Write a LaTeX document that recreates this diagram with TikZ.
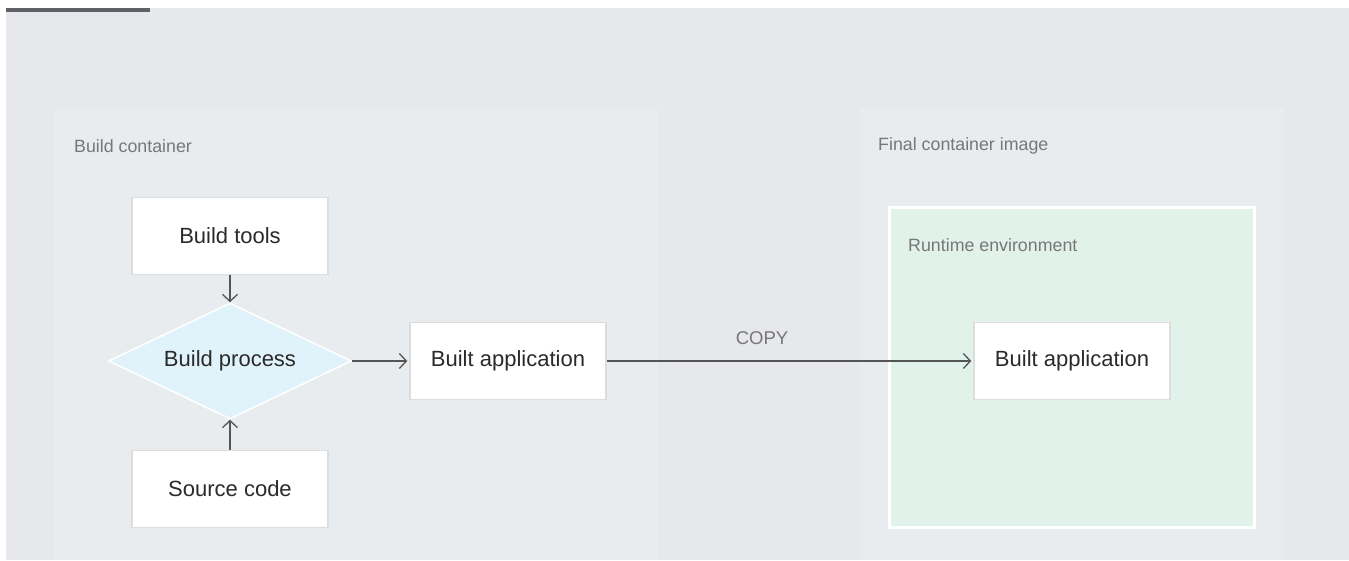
\documentclass[tikz,border=0pt]{standalone}
\usepackage{fontspec}
\setmainfont{Liberation Sans}
\usetikzlibrary{shapes.geometric,arrows.meta}
\definecolor{outerbg}{HTML}{E7E8EC}
\definecolor{contbg}{HTML}{E9ECEF}
\definecolor{runbg}{HTML}{E0F2EA}
\definecolor{boxline}{HTML}{DDDDDD}
\definecolor{diafill}{HTML}{E1F3FA}
\definecolor{barcol}{HTML}{5F6166}
\definecolor{labelcol}{HTML}{777777}
\definecolor{textcol}{HTML}{2A2A2A}
\definecolor{arrcol}{HTML}{555555}
\tikzset{
  procbox/.style={draw=boxline, line width=1.5pt, fill=white, minimum width=196pt, minimum height=77pt, inner sep=0pt, text=textcol, font=\fontsize{22}{26}\selectfont},
  decision/.style={diamond, draw=white, line width=1.5pt, fill=diafill, minimum width=243pt, minimum height=116pt, aspect=2.1, inner sep=0pt, text=textcol, font=\fontsize{22}{26}\selectfont},
  grouplabel/.style={anchor=west, text=labelcol, inner sep=0pt, font=\fontsize{17.8}{21}\selectfont},
  flow/.style={draw=arrcol, line width=1.3pt, -{Straight Barb[length=7pt,width=15pt,line width=1.3pt]}}
}
\begin{document}
\begin{tikzpicture}[x=1pt,y=-1pt]
\useasboundingbox (0,0) rectangle (1349,561);
% backgrounds
\fill[outerbg] (6,8) rectangle (1349,560);
\fill[barcol] (6,8) rectangle (150,12);
\fill[contbg] (55,108) rectangle (658,560);
\fill[contbg] (860,108) rectangle (1284,560);
\draw[white, line width=3pt, fill=runbg] (889,208) rectangle (1254,527);
% labels
\node[grouplabel] (lbuild) at (74,146) {Build container};
\node[grouplabel] (lfinal) at (878,146) {Final container image};
\node[grouplabel] (lrun) at (908,245) {Runtime environment};
% nodes
\node[procbox] (tools) at (230,236) {Build tools};
\node[decision] (proc) at (230,361) {Build process};
\node[procbox] (src) at (230,489) {Source code};
\node[procbox] (app1) at (508,361) {Built application};
\node[procbox] (app2) at (1072,361) {Built application};
% connectors
\draw[flow] (tools.south) -- (proc.north);
\draw[flow] (src.north) -- (proc.south);
\draw[flow] (proc.east) -- ([xshift=-2pt]app1.west);
\draw[flow] (app1.east) -- node[pos=0.426, above=16pt, text=labelcol, font=\fontsize{18.5}{22}\selectfont, inner sep=0pt] (copy) {COPY} ([xshift=-2pt]app2.west);
\end{tikzpicture}
\end{document}
